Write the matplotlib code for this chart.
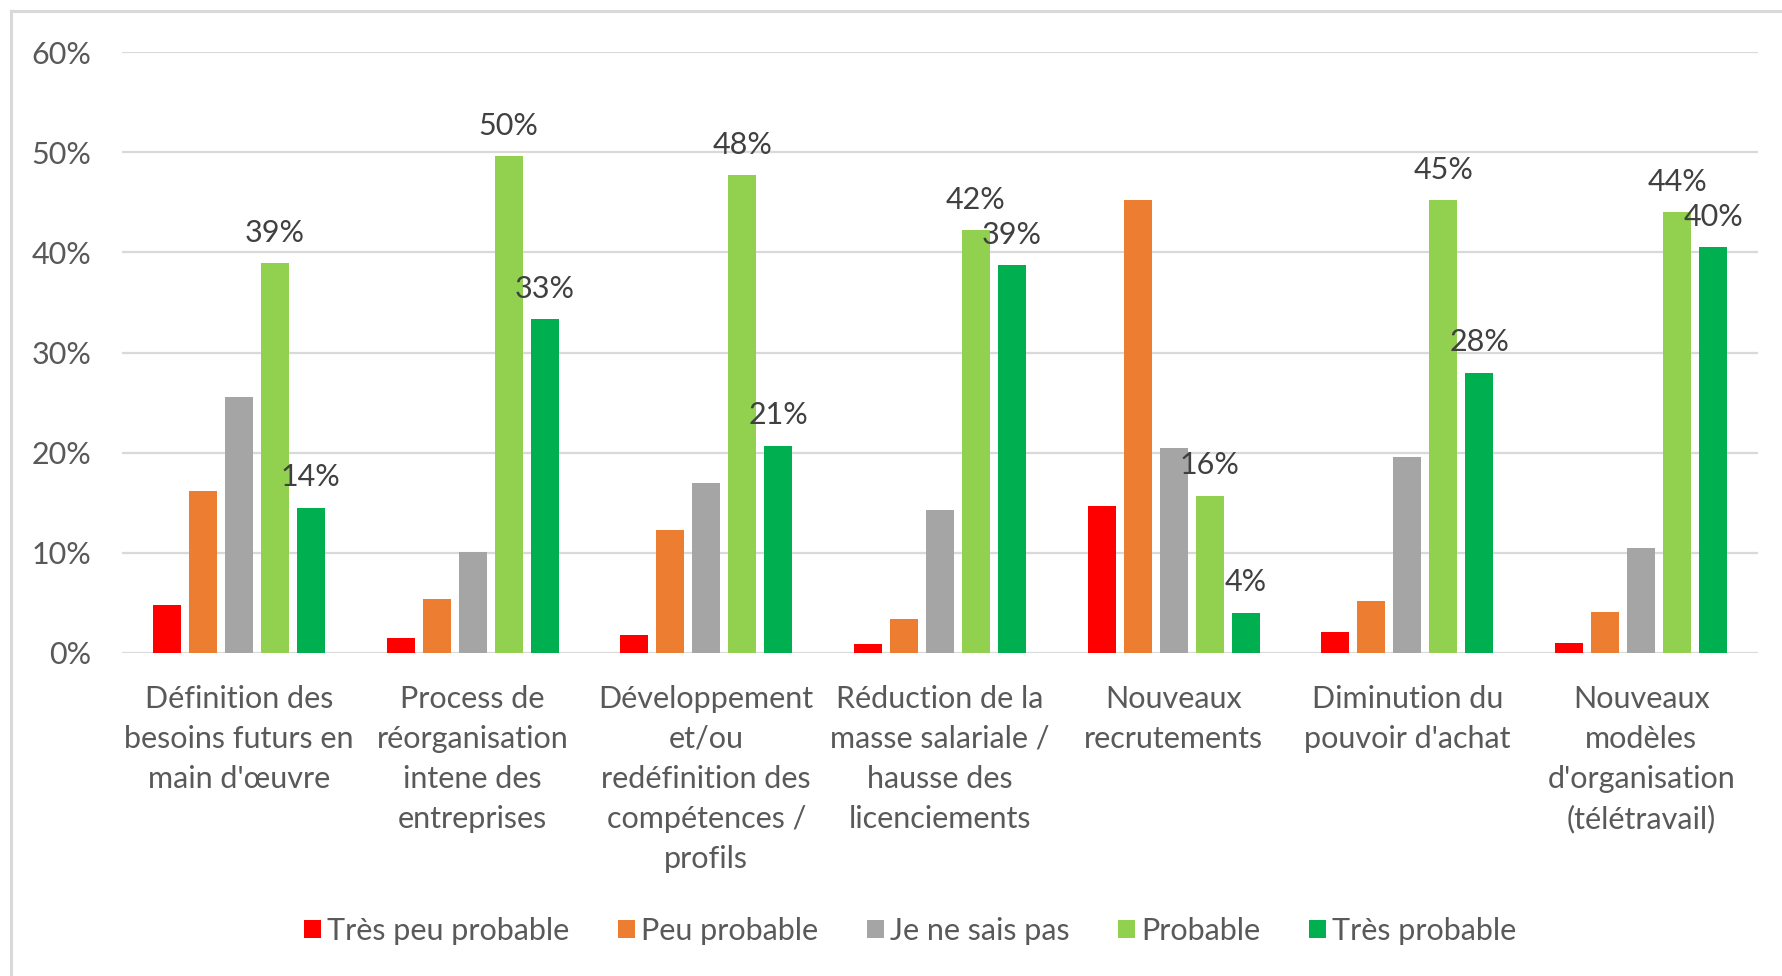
import numpy as np
import matplotlib.pyplot as plt
from matplotlib.lines import Line2D
from matplotlib.ticker import PercentFormatter

# ---- data ----
categories = [
    "Définition des\nbesoins futurs en\nmain d'œuvre",
    "Process de\nréorganisation\nintene des\nentreprises",
    "Développement\net/ou\nredéfinition des\ncompétences /\nprofils",
    "Réduction de la\nmasse salariale /\nhausse des\nlicenciements",
    "Nouveaux\nrecrutements",
    "Diminution du\npouvoir d'achat",
    "Nouveaux\nmodèles\nd'organisation\n(télétravail)",
]

series_names = ["Très peu probable", "Peu probable", "Je ne sais pas",
                "Probable", "Très probable"]

tres_peu = [4.8, 1.5, 1.8, 0.9, 14.7, 2.1, 1.0]
peu = [16.2, 5.4, 12.3, 3.4, 45.2, 5.2, 4.1]
ne_sais_pas = [25.6, 10.1, 17.0, 14.3, 20.5, 19.6, 10.5]
probable = [38.9, 49.6, 47.7, 42.2, 15.7, 45.2, 44.0]
tres_probable = [14.5, 33.3, 20.7, 38.7, 4.0, 28.0, 40.5]

values = [tres_peu, peu, ne_sais_pas, probable, tres_probable]
labelled = [False, False, False, True, True]

colors = ["#FF0000", "#ED7D31", "#A5A5A5", "#92D050", "#00B050"]
text_color = "#595959"

plt.rcParams['font.family'] = ['Lato', 'DejaVu Sans']
FS = 22

fig = plt.figure(figsize=(17.82, 9.76), dpi=100)
ax = fig.add_axes([122 / 1782, 1 - 653 / 976, (1758 - 122) / 1782, (653 - 52) / 976])

x = np.arange(len(categories))
pitch = 0.154
width = 0.12

for i, (vals, name, col) in enumerate(zip(values, series_names, colors)):
    pos = x + (i - 2) * pitch
    bars = ax.bar(pos, vals, width=width, color=col, label=name, zorder=3)
    if labelled[i]:
        for b, v in zip(bars, vals):
            ax.annotate(f"{v:.0f}%", (b.get_x() + b.get_width() / 2, v),
                        xytext=(0, 22), textcoords="offset points",
                        ha="center", va="center", fontsize=FS,
                        color="#404040", zorder=4)

ax.set_xlim(-0.5, len(categories) - 0.5)
ax.set_ylim(0, 60)
ax.set_yticks(np.arange(0, 61, 10))
ax.yaxis.set_major_formatter(PercentFormatter(decimals=0))
ax.grid(axis="y", color="#D9D9D9", linewidth=1.6, zorder=0)
for s in ax.spines.values():
    s.set_visible(False)
ax.tick_params(axis="both", length=0, labelsize=FS, labelcolor=text_color)
ax.tick_params(axis="y", pad=22)
ax.tick_params(axis="x", pad=23)
ax.set_xticks(x)
ax.set_xticklabels(categories, linespacing=1.52)

leg = fig.legend(loc="center", bbox_to_anchor=(910 / 1782, 1 - 931 / 976),
                 ncol=5, frameon=False, fontsize=FS, handlelength=0.55,
                 handleheight=0.55, handletextpad=0.2, columnspacing=1.6)
for t in leg.get_texts():
    t.set_color(text_color)

# chart area border (top and left edges)
bc = "#D9D9D9"
fig.add_artist(Line2D([11 / 1782, 1], [1 - 11 / 976, 1 - 11 / 976],
                      transform=fig.transFigure, color=bc, linewidth=2.2))
fig.add_artist(Line2D([11 / 1782, 11 / 1782], [0, 1 - 11 / 976],
                      transform=fig.transFigure, color=bc, linewidth=2.2))

fig.savefig("out.png", dpi=100)
